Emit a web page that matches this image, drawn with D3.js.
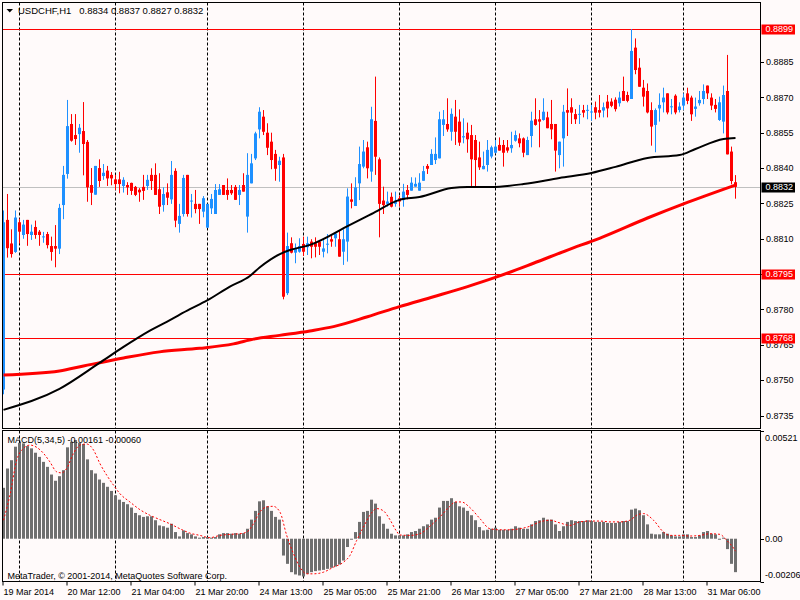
<!DOCTYPE html>
<html>
<head>
<meta charset="utf-8">
<script src="https://cdn.jsdelivr.net/npm/d3@7"></script>
<style>
	html, body { margin: 0; padding: 0; background: #fffafa; }
	svg { display: block; }
	text { font-family: "Liberation Sans", Arial, sans-serif; font-size: 9px; fill: #000; }
</style>
</head>
<body>
<svg id="chart" width="800" height="600"></svg>
<script>

const symbolTitle = "USDCHF,H1\u00a0\u00a0 0.8834 0.8837 0.8827 0.8832";
const macdTitle = "MACD(5,34,5) -0.00161 -0.00060";
const copyrightText = "MetaTrader, \u00a9 2001-2014, MetaQuotes Software Corp.";

// H1 bars, [open, high, low, close]
const ohlc = [
	[0.87460,0.88220,0.87440,0.88170],[0.88180,0.88290,0.88020,0.88060],[0.88080,0.88140,0.88020,0.88035],[0.88044,0.88220,0.88040,0.88190],
	[0.88170,0.88185,0.88080,0.88130],[0.88116,0.88180,0.88100,0.88160],[0.88180,0.88180,0.88070,0.88120],[0.88116,0.88160,0.88095,0.88130],
	[0.88150,0.88177,0.88100,0.88116],[0.88130,0.88137,0.88070,0.88116],[0.88108,0.88129,0.88083,0.88110],[0.88120,0.88129,0.88059,0.88073],
	[0.88069,0.88109,0.88007,0.88044],[0.88069,0.88158,0.87979,0.88058],[0.88058,0.88248,0.88035,0.88231],[0.88243,0.88409,0.88183,0.88371],
	[0.88375,0.88689,0.88355,0.88578],[0.88587,0.88629,0.88512,0.88516],[0.88540,0.88629,0.88498,0.88523],[0.88544,0.88587,0.88465,0.88571],
	[0.88557,0.88680,0.88369,0.88502],[0.88511,0.88519,0.88257,0.88318],[0.88328,0.88400,0.88243,0.88295],[0.88287,0.88409,0.88287,0.88409],
	[0.88400,0.88437,0.88320,0.88345],[0.88366,0.88417,0.88350,0.88380],[0.88389,0.88409,0.88324,0.88356],[0.88371,0.88383,0.88327,0.88356],
	[0.88352,0.88371,0.88307,0.88332],[0.88352,0.88384,0.88293,0.88332],[0.88324,0.88361,0.88296,0.88350],[0.88328,0.88340,0.88286,0.88318],
	[0.88337,0.88338,0.88286,0.88303],[0.88320,0.88324,0.88281,0.88286],[0.88308,0.88315,0.88257,0.88297],[0.88320,0.88371,0.88265,0.88303],
	[0.88324,0.88371,0.88307,0.88350],[0.88371,0.88399,0.88307,0.88345],[0.88371,0.88420,0.88286,0.88286],[0.88310,0.88378,0.88205,0.88236],
	[0.88243,0.88318,0.88215,0.88290],[0.88297,0.88335,0.88243,0.88274],[0.88267,0.88430,0.88248,0.88371],[0.88388,0.88399,0.88149,0.88177],
	[0.88163,0.88248,0.88126,0.88197],[0.88205,0.88371,0.88194,0.88358],[0.88371,0.88371,0.88194,0.88205],[0.88260,0.88290,0.88190,0.88262],
	[0.88248,0.88307,0.88208,0.88226],[0.88248,0.88248,0.88163,0.88226],[0.88215,0.88281,0.88191,0.88272],[0.88147,0.88248,0.88147,0.88248],
	[0.88229,0.88290,0.88205,0.88269],[0.88205,0.88332,0.88205,0.88307],[0.88286,0.88332,0.88286,0.88310],[0.88328,0.88328,0.88286,0.88286],
	[0.88307,0.88356,0.88265,0.88286],[0.88307,0.88328,0.88286,0.88293],[0.88320,0.88328,0.88265,0.88265],[0.88286,0.88328,0.88243,0.88307],
	[0.88328,0.88378,0.88300,0.88300],[0.88194,0.88463,0.88126,0.88371],[0.88335,0.88460,0.88335,0.88420],[0.88441,0.88554,0.88434,0.88547],
	[0.88564,0.88658,0.88526,0.88639],[0.88618,0.88646,0.88540,0.88554],[0.88550,0.88590,0.88455,0.88486],[0.88512,0.88550,0.88395,0.88434],
	[0.88460,0.88477,0.88346,0.88397],[0.88413,0.88448,0.88342,0.88431],[0.88445,0.88460,0.87843,0.87854],[0.87869,0.88126,0.87861,0.88069],
	[0.88081,0.88106,0.88038,0.88041],[0.88041,0.88080,0.87996,0.88060],[0.88045,0.88102,0.88041,0.88069],[0.88078,0.88109,0.88027,0.88045],
	[0.88064,0.88109,0.88031,0.88081],[0.88088,0.88098,0.88017,0.88066],[0.88081,0.88106,0.88021,0.88066],[0.88088,0.88095,0.88031,0.88066],
	[0.88045,0.88095,0.88021,0.88059],[0.88077,0.88120,0.88038,0.88079],[0.88098,0.88120,0.88066,0.88088],[0.88102,0.88126,0.88066,0.88122],
	[0.88098,0.88137,0.88024,0.88024],[0.88045,0.88140,0.87989,0.88098],[0.88088,0.88314,0.88003,0.88279],[0.88267,0.88335,0.88229,0.88257],
	[0.88239,0.88361,0.88239,0.88318],[0.88335,0.88491,0.88264,0.88417],[0.88406,0.88519,0.88399,0.88470],[0.88488,0.88512,0.88356,0.88399],
	[0.88385,0.88660,0.88342,0.88607],[0.88600,0.88788,0.88371,0.88448],[0.88437,0.88445,0.88106,0.88248],[0.88262,0.88321,0.88205,0.88243],
	[0.88248,0.88300,0.88236,0.88258],[0.88278,0.88296,0.88233,0.88236],[0.88248,0.88300,0.88236,0.88262],[0.88272,0.88282,0.88236,0.88258],
	[0.88264,0.88333,0.88236,0.88300],[0.88307,0.88328,0.88267,0.88286],[0.88304,0.88361,0.88304,0.88338],[0.88321,0.88360,0.88321,0.88333],
	[0.88304,0.88378,0.88304,0.88338],[0.88346,0.88409,0.88346,0.88387],[0.88409,0.88417,0.88375,0.88397],[0.88413,0.88480,0.88413,0.88460],
	[0.88434,0.88530,0.88417,0.88460],[0.88441,0.88639,0.88441,0.88607],[0.88583,0.88646,0.88536,0.88607],[0.88587,0.88696,0.88554,0.88564],
	[0.88554,0.88653,0.88516,0.88630],[0.88618,0.88689,0.88498,0.88554],[0.88597,0.88649,0.88494,0.88508],[0.88530,0.88611,0.88505,0.88535],
	[0.88550,0.88593,0.88465,0.88522],[0.88540,0.88583,0.88321,0.88437],[0.88519,0.88540,0.88318,0.88434],[0.88445,0.88512,0.88392,0.88403],
	[0.88395,0.88470,0.88395,0.88409],[0.88413,0.88519,0.88385,0.88477],[0.88449,0.88495,0.88441,0.88488],[0.88465,0.88519,0.88462,0.88491],
	[0.88498,0.88530,0.88474,0.88474],[0.88498,0.88519,0.88406,0.88465],[0.88488,0.88519,0.88465,0.88474],[0.88484,0.88554,0.88465,0.88498],
	[0.88516,0.88559,0.88512,0.88540],[0.88526,0.88547,0.88488,0.88505],[0.88526,0.88530,0.88446,0.88465],[0.88455,0.88533,0.88455,0.88519],
	[0.88536,0.88639,0.88488,0.88601],[0.88607,0.88696,0.88580,0.88583],[0.88607,0.88646,0.88488,0.88597],[0.88604,0.88696,0.88601,0.88639],
	[0.88615,0.88639,0.88569,0.88569],[0.88587,0.88689,0.88522,0.88564],[0.88587,0.88587,0.88385,0.88474],[0.88455,0.88512,0.88399,0.88512],
	[0.88526,0.88668,0.88406,0.88639],[0.88646,0.88738,0.88536,0.88635],[0.88658,0.88696,0.88587,0.88635],[0.88629,0.88650,0.88587,0.88607],
	[0.88628,0.88668,0.88587,0.88630],[0.88646,0.88668,0.88615,0.88635],[0.88645,0.88668,0.88607,0.88647],[0.88638,0.88668,0.88601,0.88640],
	[0.88658,0.88682,0.88607,0.88635],[0.88646,0.88710,0.88615,0.88635],[0.88644,0.88678,0.88615,0.88658],[0.88682,0.88710,0.88615,0.88653],
	[0.88682,0.88696,0.88658,0.88664],[0.88690,0.88700,0.88640,0.88650],[0.88675,0.88724,0.88661,0.88699],[0.88727,0.88788,0.88685,0.88685],
	[0.88710,0.88724,0.88679,0.88685],[0.88693,0.88990,0.88693,0.88897],[0.88911,0.88950,0.88798,0.88816],[0.88826,0.88866,0.88745,0.88745],
	[0.88741,0.88774,0.88661,0.88703],[0.88727,0.88759,0.88632,0.88636],[0.88646,0.88679,0.88495,0.88576],[0.88583,0.88653,0.88467,0.88646],
	[0.88653,0.88717,0.88597,0.88668],[0.88679,0.88741,0.88636,0.88699],[0.88717,0.88717,0.88628,0.88636],[0.88660,0.88693,0.88628,0.88662],
	[0.88707,0.88713,0.88628,0.88636],[0.88646,0.88679,0.88636,0.88661],[0.88665,0.88717,0.88646,0.88699],[0.88717,0.88741,0.88671,0.88685],
	[0.88699,0.88707,0.88600,0.88628],[0.88651,0.88699,0.88618,0.88661],[0.88675,0.88727,0.88665,0.88689],[0.88693,0.88755,0.88671,0.88727],
	[0.88750,0.88750,0.88693,0.88717],[0.88699,0.88717,0.88646,0.88665],[0.88668,0.88693,0.88636,0.88651],[0.88604,0.88703,0.88600,0.88679],
	[0.88597,0.88750,0.88547,0.88710],[0.88727,0.88880,0.88458,0.88458],[0.88470,0.88491,0.88331,0.88345],[0.88340,0.88370,0.88270,0.88320]
];

// moving averages, [bar, price]
const maBlack = [
	[0,0.87374],[14,0.87463],[24,0.87573],[30,0.87641],[36.6,0.87710],[41.6,0.87755],[46.6,0.87801],[50.8,0.87837],
	[56.6,0.87897],[61.6,0.87942],[64.1,0.87979],[69.1,0.88035],[71.6,0.88052],[76.6,0.88074],[86.5,0.88158],[92,0.88205],
	[99,0.88265],[104,0.88277],[112,0.88315],[116,0.88320],[122,0.88320],[130,0.88332],[139,0.88358],[147,0.88379],
	[153,0.88405],[161,0.88443],[169,0.88455],[173,0.88481],[180,0.88523],[183,0.88528]
];
const maRed = [
	[0,0.87522],[14,0.87539],[20,0.87560],[30,0.87594],[39,0.87620],[49,0.87635],[57.5,0.87654],[62.5,0.87674],
	[69,0.87690],[76.6,0.87709],[82.5,0.87727],[91,0.87769],[99,0.87812],[107.5,0.87854],[116,0.87897],[123.5,0.87939],
	[132.5,0.87996],[141,0.88052],[149,0.88102],[161,0.88188],[170,0.88248],[183,0.88328]
];

const macdHist = [
	0.00245,0.00338,0.00378,0.00443,0.00462,0.00459,0.00446,0.00435,0.00414,0.00394,
	0.00370,0.00346,0.00309,0.00279,0.00301,0.00330,0.00440,0.00467,0.00475,0.00462,
	0.00456,0.00382,0.00330,0.00314,0.00285,0.00269,0.00250,0.00230,0.00209,0.00188,
	0.00177,0.00166,0.00150,0.00124,0.00113,0.00105,0.00108,0.00108,0.00089,0.00064,
	0.00060,0.00053,0.00072,0.00032,0.00011,0.00040,0.00027,0.00021,0.00011,0.00005,
	0.00008,0.00008,0.00005,0.00008,0.00021,0.00027,0.00027,0.00024,0.00027,0.00024,
	0.00027,0.00048,0.00092,0.00134,0.00180,0.00185,0.00156,0.00134,0.00105,0.00092,
	-0.00081,-0.00121,-0.00161,-0.00172,-0.00177,-0.00182,-0.00169,-0.00161,-0.00156,-0.00153,
	-0.00150,-0.00145,-0.00140,-0.00134,-0.00124,-0.00105,-0.00040,-0.00005,0.00032,0.00081,
	0.00129,0.00134,0.00188,0.00169,0.00108,0.00072,0.00048,0.00024,0.00016,0.00016,
	0.00016,0.00021,0.00032,0.00037,0.00048,0.00060,0.00069,0.00092,0.00101,0.00150,
	0.00182,0.00182,0.00195,0.00177,0.00156,0.00150,0.00134,0.00113,0.00089,0.00056,
	0.00040,0.00043,0.00048,0.00053,0.00043,0.00043,0.00043,0.00048,0.00060,0.00053,
	0.00048,0.00048,0.00069,0.00085,0.00089,0.00101,0.00092,0.00092,0.00069,0.00037,
	0.00060,0.00081,0.00089,0.00085,0.00085,0.00085,0.00089,0.00085,0.00081,0.00081,
	0.00081,0.00076,0.00076,0.00076,0.00081,0.00085,0.00085,0.00140,0.00145,0.00137,
	0.00113,0.00069,0.00024,0.00021,0.00021,0.00032,0.00024,0.00016,0.00011,0.00011,
	0.00021,0.00021,0.00008,0.00008,0.00016,0.00032,0.00037,0.00024,0.00021,-0.00005,
	0.00005,-0.00050,-0.00121,-0.00161
];

// signal line, [bar, value]
const macdSignal = [
	[0,0.00089],[1.6,0.00209],[3.3,0.00378],[5,0.00435],[6.6,0.00451],[8.3,0.00440],[10,0.00411],[11.6,0.00370],
	[13.3,0.00322],[14.5,0.00317],[15.8,0.00338],[17.5,0.00411],[19.1,0.00451],[20.8,0.00456],[22.5,0.00427],[24.1,0.00362],
	[25.8,0.00306],[27.5,0.00258],[29.1,0.00217],[31.6,0.00177],[34.1,0.00140],[36.6,0.00113],[39.1,0.00092],[41.6,0.00072],
	[44.1,0.00048],[46.6,0.00027],[49.1,0.00016],[51.6,0.00005],[54.1,0.00016],[56.6,0.00021],[59.1,0.00024],[60.8,0.00032],
	[62.5,0.00072],[64.1,0.00129],[65.8,0.00153],[67.4,0.00156],[69.1,0.00129],[70.8,0.00016],[72.5,-0.00072],[74.1,-0.00137],
	[75.8,-0.00169],[77.5,-0.00169],[80,-0.00161],[82.5,-0.00137],[85,-0.00113],[86.6,-0.00081],[88.3,-0.00008],[90,0.00056],
	[91.6,0.00113],[93.3,0.00145],[95,0.00134],[96.6,0.00092],[98.3,0.00035],[99.1,0.00018],[101.6,0.00016],[104.1,0.00024],
	[106.6,0.00060],[109.1,0.00105],[111.6,0.00156],[112.9,0.00177],[114.5,0.00177],[116.6,0.00150],[119.1,0.00097],[121.6,0.00048],
	[124.1,0.00043],[126.6,0.00043],[129.1,0.00048],[131.6,0.00060],[134.1,0.00081],[136.6,0.00089],[139.1,0.00076],[141.6,0.00064],
	[144.1,0.00081],[146.6,0.00085],[149.1,0.00085],[151.6,0.00081],[154.1,0.00081],[156.6,0.00089],[158.3,0.00113],[160,0.00121],
	[162.5,0.00089],[165,0.00032],[166.6,0.00016],[169.1,0.00016],[171.6,0.00013],[174.1,0.00016],[176.6,0.00024],[179.1,0.00021],
	[180.8,-0.00008],[182.5,-0.00045],[183,-0.00060]
];

const timeLabels = ["19 Mar 2014", "20 Mar 12:00", "21 Mar 04:00", "21 Mar 20:00", "24 Mar 13:00", "25 Mar 05:00",
	"25 Mar 21:00", "26 Mar 13:00", "27 Mar 05:00", "27 Mar 21:00", "28 Mar 13:00", "31 Mar 06:00"];
const timeLabelBars = [0, 16, 32, 48, 64, 80, 96, 112, 128, 144, 160, 176];
const daySeparatorBars = [4, 28, 51, 75, 99, 123, 147, 170];

const priceTicks = [0.8885, 0.8870, 0.8855, 0.8840, 0.8825, 0.8810, 0.8795, 0.8780, 0.8765, 0.8750, 0.8735];
const levelPrices = [0.8899, 0.8795, 0.8768];
const bidPrice = 0.8832;
const macdTicks = [0.00521, 0, -0.00206];
const macdTickLabels = ["0.00521", "0.00", "-0.00206"];

// layout
const frameLeft = 2.5, frameRight = 760.5;
const mainTop = 2.5, mainBottom = 428.5;
const subTop = 430.5, subBottom = 581.5;

const bull = "#1e90ff", bear = "#ff0000";

const svg = d3.select("#chart");

const x = d3.scaleLinear().domain([0, 183]).range([3.5, 735.5]);
const yPrice = d3.scaleLinear().domain([0.8735, 0.8885]).range([415.5, 62]);
const yMacd = d3.scaleLinear().domain([-0.00206, 0.00521]).range([subBottom, subTop]);

const defs = svg.append("defs");
defs.append("clipPath").attr("id", "clip-main").append("rect")
	.attr("x", frameLeft).attr("y", mainTop).attr("width", frameRight - frameLeft).attr("height", mainBottom - mainTop);
defs.append("clipPath").attr("id", "clip-sub").append("rect")
	.attr("x", frameLeft).attr("y", subTop).attr("width", frameRight - frameLeft).attr("height", subBottom - subTop);

svg.append("rect").attr("width", 800).attr("height", 600).attr("fill", "#fffafa");

const mainG = svg.append("g").attr("clip-path", "url(#clip-main)");
const subG = svg.append("g").attr("clip-path", "url(#clip-sub)");

// day separators
[[mainG, mainTop, mainBottom], [subG, subTop, subBottom]].forEach(([g, t, b]) => {
	g.selectAll(null)
		.data(daySeparatorBars)
		.enter().append("line")
		.attr("x1", d => x(d)).attr("x2", d => x(d))
		.attr("y1", t).attr("y2", b)
		.attr("stroke", "#000").attr("stroke-width", 1)
		.attr("stroke-dasharray", "3,2");
});

// bid line and levels
mainG.append("line")
	.attr("x1", frameLeft).attr("x2", frameRight)
	.attr("y1", Math.round(yPrice(bidPrice)) + 0.5).attr("y2", Math.round(yPrice(bidPrice)) + 0.5)
	.attr("stroke", "#c0c0c0");

mainG.selectAll(".level")
	.data(levelPrices)
	.enter().append("line")
	.classed("level", true)
	.attr("x1", frameLeft).attr("x2", frameRight)
	.attr("y1", d => Math.round(yPrice(d)) + 0.5).attr("y2", d => Math.round(yPrice(d)) + 0.5)
	.attr("stroke", "#ff0000");

// candles
const candles = mainG.selectAll(".candle")
	.data(ohlc)
	.enter().append("g")
	.classed("candle", true);

candles.append("line")
	.attr("x1", (d, i) => x(i)).attr("x2", (d, i) => x(i))
	.attr("y1", d => yPrice(d[1])).attr("y2", d => yPrice(d[2]))
	.attr("stroke", d => d[3] >= d[0] ? bull : bear)
	.attr("stroke-width", 1);

candles.append("rect")
	.attr("x", (d, i) => x(i) - 1.5)
	.attr("width", 3)
	.attr("y", d => yPrice(Math.max(d[0], d[3])))
	.attr("height", d => Math.max(1, Math.abs(yPrice(d[0]) - yPrice(d[3]))))
	.attr("fill", d => d[3] >= d[0] ? bull : bear);

// moving averages
const maLine = d3.line()
	.x(d => x(d[0]))
	.y(d => yPrice(d[1]))
	.curve(d3.curveMonotoneX);

mainG.append("path").datum(maRed)
	.attr("d", maLine)
	.attr("fill", "none").attr("stroke", "#ff0000").attr("stroke-width", 3);

mainG.append("path").datum(maBlack)
	.attr("d", maLine)
	.attr("fill", "none").attr("stroke", "#000").attr("stroke-width", 2);

// MACD histogram
subG.selectAll(".hist")
	.data(macdHist)
	.enter().append("rect")
	.classed("hist", true)
	.attr("x", (d, i) => x(i) - 1.5)
	.attr("width", 3)
	.attr("y", d => Math.min(yMacd(0), yMacd(d)))
	.attr("height", d => Math.abs(yMacd(d) - yMacd(0)))
	.attr("fill", "#6f6f6f");

const sigLine = d3.line()
	.x(d => x(d[0]))
	.y(d => yMacd(d[1]))
	.curve(d3.curveMonotoneX);

subG.append("path").datum(macdSignal)
	.attr("d", sigLine)
	.attr("fill", "none").attr("stroke", "#ff0000").attr("stroke-width", 1)
	.attr("stroke-dasharray", "2,2");

// frames
[[mainTop, mainBottom], [subTop, subBottom]].forEach(([t, b]) => {
	svg.append("rect")
		.attr("x", frameLeft).attr("y", t)
		.attr("width", frameRight - frameLeft).attr("height", b - t)
		.attr("fill", "none").attr("stroke", "#000");
});

// header texts
svg.append("path")
	.attr("d", "M6.5,9 L13,9 L9.75,12.5 Z")
	.attr("fill", "#000");
svg.append("text").attr("x", 18).attr("y", 14).style("font-size", "9.5px").text(symbolTitle);
svg.append("text").attr("x", 7.5).attr("y", 442.5).text(macdTitle);
svg.append("text").attr("x", 7.5).attr("y", 578.5).text(copyrightText);

// price axis
const axisG = svg.append("g");
axisG.selectAll(".ptick")
	.data(priceTicks)
	.enter().append("line")
	.attr("x1", frameRight).attr("x2", frameRight + 3.5)
	.attr("y1", d => Math.round(yPrice(d)) + 0.5).attr("y2", d => Math.round(yPrice(d)) + 0.5)
	.attr("stroke", "#000");
axisG.selectAll(".plabel")
	.data(priceTicks)
	.enter().append("text")
	.attr("x", 766)
	.attr("y", d => yPrice(d) + 3.3)
	.text(d => d3.format(".4f")(d));

// price tags (drawn over the axis labels, as in the terminal)
const tags = levelPrices.map(p => ({ p: p, bg: "#ff0000" })).concat([{ p: bidPrice, bg: "#000" }]);
const tagG = axisG.selectAll(".tag")
	.data(tags)
	.enter().append("g");
tagG.append("rect")
	.attr("x", 761.5).attr("width", 33.5)
	.attr("y", d => Math.round(yPrice(d.p)) - 4.5).attr("height", 10)
	.attr("fill", d => d.bg);
tagG.append("text")
	.attr("x", 765.5)
	.attr("y", d => yPrice(d.p) + 3.3)
	.style("fill", "#fff")
	.text(d => d3.format(".4f")(d.p));

// MACD axis
axisG.selectAll(".mtick")
	.data(macdTicks)
	.enter().append("line")
	.attr("x1", frameRight).attr("x2", frameRight + 3.5)
	.attr("y1", d => Math.round(yMacd(d)) + 0.5).attr("y2", d => Math.round(yMacd(d)) + 0.5)
	.attr("stroke", "#000");
axisG.selectAll(".mlabel")
	.data(macdTicks)
	.enter().append("text")
	.attr("x", 765)
	.attr("y", d => Math.min(subBottom - 7, Math.max(subTop + 7, yMacd(d))) + 3.3)
	.text((d, i) => macdTickLabels[i]);

// time axis
axisG.selectAll(".ttick")
	.data(timeLabelBars)
	.enter().append("line")
	.attr("x1", d => x(d) - 0.5).attr("x2", d => x(d) - 0.5)
	.attr("y1", subBottom).attr("y2", subBottom + 4)
	.attr("stroke", "#000");
axisG.selectAll(".tlabel")
	.data(timeLabelBars)
	.enter().append("text")
	.attr("x", d => x(d))
	.attr("y", 595)
	.text((d, i) => timeLabels[i]);

</script>
</body>
</html>
